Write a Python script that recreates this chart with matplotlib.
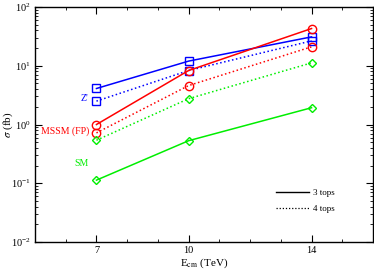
import matplotlib
matplotlib.use('Agg')
from matplotlib import pyplot as plt
from matplotlib.ticker import FixedLocator, LogLocator, NullFormatter
from matplotlib.lines import Line2D

# centre-of-mass energies (TeV)
energy = [7, 10, 14]

# cross sections (fb), 3 tops = solid, 4 tops = dotted
zp_3tops = [4.1, 12.0, 31.0]
zp_4tops = [2.5, 8.3, 26.5]
mssm_3tops = [1.0, 8.3, 43.0]
mssm_4tops = [0.72, 4.6, 21.0]
sm_3tops = [0.113, 0.53, 1.93]
sm_4tops = [0.54, 2.75, 11.2]

blue = '#0000ff'
red = '#ff0000'
green = '#00ee00'

plt.rcParams['font.family'] = ['Liberation Serif', 'DejaVu Serif']
plt.rcParams['mathtext.fontset'] = 'stix'

fig = plt.figure(figsize=(3.74, 2.70), dpi=100)
ax = fig.add_axes([35/374, 28/270, 338/374, 235/270])

mk = dict(markersize=6, markerfacecolor='none', markeredgewidth=1.0, linewidth=1.1)
ax.plot(energy, zp_3tops, '-', marker='s', color=blue, markeredgecolor=blue, **mk)
ax.plot(energy, zp_4tops, ':', marker='s', color=blue, markeredgecolor=blue, **mk)
ax.plot(energy, mssm_3tops, '-', marker='o', color=red, markeredgecolor=red, **mk)
ax.plot(energy, mssm_4tops, ':', marker='o', color=red, markeredgecolor=red, **mk)
ax.plot(energy, sm_3tops, '-', marker='D', color=green, markeredgecolor=green,
        **{**mk, 'markersize': 4.5})
ax.plot(energy, sm_4tops, ':', marker='D', color=green, markeredgecolor=green,
        **{**mk, 'markersize': 4.5})

ax.set_yscale('log')
ax.set_xlim(5, 16)
ax.set_ylim(1e-2, 1e2)

ax.xaxis.set_major_locator(FixedLocator([7, 10, 14]))
ax.xaxis.set_minor_locator(FixedLocator([6, 8, 9, 11, 12, 13, 15]))
ax.yaxis.set_minor_locator(LogLocator(base=10, subs=range(2, 10)))
ax.yaxis.set_minor_formatter(NullFormatter())
ax.tick_params(which='both', direction='in', top=True, right=True, labelsize=7.5)
ax.tick_params(which='major', length=5, pad=3)
ax.tick_params(which='minor', length=2.5)
for s in ax.spines.values():
    s.set_linewidth(1.0)

ax.set_xlabel(r'E$_{\mathrm{cm}}$ (TeV)', fontsize=8, labelpad=1)
ax.set_ylabel(r'$\sigma$ (fb)', fontsize=8)
ax.yaxis.set_label_coords(-0.06, 0.5)

ax.text(6.72, 2.75, "Z'", color=blue, fontsize=7, ha='right', va='center')
ax.text(6.75, 0.78, 'MSSM (FP)', color=red, fontsize=7, ha='right', va='center')
ax.text(6.75, 0.22, 'SM', color=green, fontsize=7, ha='right', va='center')

handles = [Line2D([], [], color='black', linestyle='-', linewidth=1.0),
           Line2D([], [], color='black', linestyle=(0, (1, 1.5)), linewidth=0.9)]
leg = ax.legend(handles, ['3 tops', '4 tops'], loc='lower right',
                bbox_to_anchor=(0.912, 0.088), frameon=False, fontsize=6.5,
                handlelength=3.6, handletextpad=0.5, labelspacing=0.9)

fig.savefig('out.png', dpi=100)
